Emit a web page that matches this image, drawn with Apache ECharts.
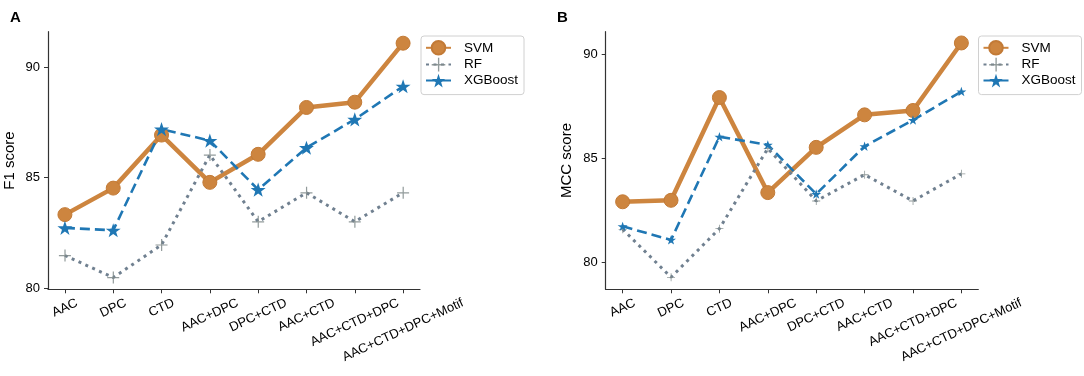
<!DOCTYPE html>
<html>
<head>
<meta charset="utf-8">
<script src="https://cdn.jsdelivr.net/npm/echarts@6/dist/echarts.min.js"></script>
<style>
  html, body { margin: 0; padding: 0; background: #fff; }
  #chart_id { width: 1084px; height: 376px; }
</style>
</head>
<body>
<div id="chart_id"></div>
<script>
// data
const categories = ['AAC', 'DPC', 'CTD', 'AAC+DPC', 'DPC+CTD', 'AAC+CTD', 'AAC+CTD+DPC', 'AAC+CTD+DPC+Motif'];
const f1Svm = [83.32, 84.52, 86.92, 84.78, 86.05, 88.17, 88.41, 91.08];
const f1Rf = [81.47, 80.47, 81.95, 86.02, 83.0, 84.31, 83.0, 84.31];
const f1Xgb = [82.72, 82.61, 87.19, 86.67, 84.45, 86.35, 87.63, 89.13];
const mccSvm = [82.92, 82.99, 87.92, 83.36, 85.53, 87.09, 87.30, 90.54];
const mccRf = [81.6, 79.30, 81.63, 85.48, 82.96, 84.22, 82.96, 84.26];
const mccXgb = [81.74, 81.09, 86.04, 85.65, 83.29, 85.58, 86.84, 88.21];
const yTicks = [80, 85, 90];
const xTicks = categories.map((c, i) => i);

const FONT = '"Liberation Sans", Arial, sans-serif';
const ORANGE = '#cd853f';
const BLUE = '#1f77b4';
const GRAY = '#708090';
const STAR = 'path://M50,0L61.8,35.1L98.1,35.1L68.8,56.7L79.4,90.5L50,69.1L20.6,90.5L31.2,56.7L1.9,35.1L38.2,35.1Z';
const PLUS = 'path://M11,0h2.4v11h10.6v2.4h-10.6v10.6h-2.4v-10.6h-11v-2.4h11z';

// rotated labels centred under the tick (like matplotlib ha=center)
function buildRich() {
  const ctx = document.createElement('canvas').getContext('2d');
  ctx.font = '13px ' + FONT;
  const rich = {};
  categories.forEach((c, i) => {
    const w = ctx.measureText(c).width;
    rich['c' + i] = {
      fontSize: 13, fontFamily: FONT, color: '#000',
      padding: [0.3828 * w, 0.1785 * w, 0, 0]
    };
  });
  return rich;
}
const rich = buildRich();

const toPairs = arr => arr.map((v, i) => [i, v]);

function xAxisFor(gridIndex) {
  return {
    type: 'value', gridIndex: gridIndex, min: -0.35, max: 7.35,
    splitLine: { show: false },
    axisLine: { show: true, onZero: false, lineStyle: { color: '#333', width: 1.2 } },
    axisTick: { show: true, length: 4, customValues: xTicks, lineStyle: { color: '#333' } },
    axisLabel: {
      customValues: xTicks, rotate: 25, align: 'center', verticalAlign: 'middle',
      margin: 13, hideOverlap: false, rich: rich,
      formatter: v => '{c' + v + '|' + categories[v] + '}'
    }
  };
}

function yAxisFor(gridIndex, name, min, max) {
  return {
    type: 'value', gridIndex: gridIndex, min: min, max: max, name: name,
    nameLocation: 'middle', nameGap: 31,
    nameTextStyle: { fontSize: 15, fontFamily: FONT, color: '#000' },
    splitLine: { show: false },
    axisLine: { show: true, onZero: false, lineStyle: { color: '#333', width: 1.2 } },
    axisTick: { show: true, length: 4, customValues: yTicks, lineStyle: { color: '#333' } },
    axisLabel: { customValues: yTicks, margin: 8, fontSize: 13, fontFamily: FONT, color: '#000' }
  };
}

function seriesFor(idx, svm, rf, xgb, starSize, plusSize) {
  return [
    {
      name: 'SVM', type: 'line', xAxisIndex: idx, yAxisIndex: idx, data: toPairs(svm),
      symbol: 'circle', symbolSize: 14, color: ORANGE,
      lineStyle: { color: ORANGE, width: 4.5 },
      itemStyle: { color: ORANGE, borderColor: '#c27a36', borderWidth: 1 }
    },
    {
      name: 'RF', type: 'line', xAxisIndex: idx, yAxisIndex: idx, data: toPairs(rf),
      symbol: PLUS, symbolSize: plusSize, symbolKeepAspect: true, color: GRAY,
      lineStyle: { color: GRAY, width: 3, type: [3, 4.5], cap: 'butt' },
      itemStyle: { color: '#7f8a8a', opacity: 0.85 }
    },
    {
      name: 'XGBoost', type: 'line', xAxisIndex: idx, yAxisIndex: idx, data: toPairs(xgb),
      symbol: STAR, symbolSize: starSize, symbolKeepAspect: true, color: BLUE,
      lineStyle: { color: BLUE, width: 2.6, type: [10, 5] },
      itemStyle: { color: BLUE }
    }
  ];
}

function legendFor(left) {
  return {
    orient: 'vertical', left: left, top: 36,
    data: ['SVM', 'RF', 'XGBoost'],
    itemWidth: 25, itemHeight: 17, itemGap: 2,
    padding: [4, 6, 7, 4],
    borderColor: '#d0d0d0', borderWidth: 1, borderRadius: 3, backgroundColor: '#fff',
    textStyle: { fontSize: 13.5, fontFamily: FONT, color: '#000', padding: [0, 0, 0, 8] }
  };
}

const chart = echarts.init(document.getElementById('chart_id'));
const option = {
  animation: false,
  title: [
    { text: 'A', left: 5, top: 5, textStyle: { fontSize: 15, fontWeight: 'bold', fontFamily: FONT, color: '#000' } },
    { text: 'B', left: 552, top: 5, textStyle: { fontSize: 15, fontWeight: 'bold', fontFamily: FONT, color: '#000' } }
  ],
  grid: [
    { left: 48, top: 31.7, width: 372, height: 257.6, outerBoundsMode: 'none' },
    { left: 605.7, top: 31.7, width: 372.6, height: 257.6, outerBoundsMode: 'none' }
  ],
  legend: [legendFor(421), legendFor(978.5)],
  xAxis: [xAxisFor(0), xAxisFor(1)],
  yAxis: [yAxisFor(0, 'F1 score', 79.94, 91.6), yAxisFor(1, 'MCC score', 78.72, 91.08)],
  series: seriesFor(0, f1Svm, f1Rf, f1Xgb, 15, 12).concat(seriesFor(1, mccSvm, mccRf, mccXgb, 10, 8))
};
chart.setOption(option);
</script>
</body>
</html>
